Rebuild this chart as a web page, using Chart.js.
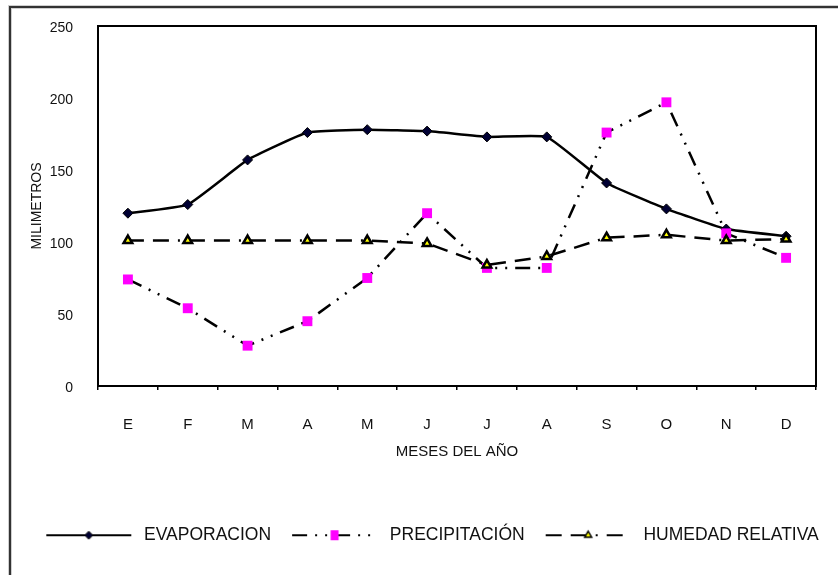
<!DOCTYPE html>
<html>
<head>
<meta charset="utf-8">
<script src="https://cdn.jsdelivr.net/npm/chart.js@4.4.0/dist/chart.umd.min.js"></script>
<style>
  html, body { margin: 0; padding: 0; background: #fff; }
  #grafico { display: block; }
</style>
</head>
<body>
<canvas id="grafico" width="838" height="575"></canvas>
<script>
// Meses del año
const meses = ['E', 'F', 'M', 'A', 'M', 'J', 'J', 'A', 'S', 'O', 'N', 'D'];

// Valores mensuales (mm)
const evaporacion   = [120, 126, 157, 176, 178, 177, 173, 173, 141, 123, 109, 104];
const precipitacion = [74, 54, 28, 45, 75, 120, 82, 82, 176, 197, 106, 89];
const humedad       = [101, 101, 101, 101, 101, 99, 84, 90, 103, 105, 101, 102];

// Marcas del eje vertical
const ticksY = [0, 50, 100, 150, 200, 250];

const series = [
  { label: 'EVAPORACION', data: evaporacion, dash: [], tension: 0.12,
    pointStyle: 'rectRot', radius: 5, fill: '#000033', stroke: '#000', strokeW: 1 },
  { label: 'PRECIPITACIÓN', data: precipitacion, dash: [15, 8, 2, 8, 2, 8], tension: 0,
    pointStyle: 'rect', radius: 7, fill: '#ff00ff', stroke: '#ff00ff', strokeW: 0 },
  { label: 'HUMEDAD RELATIVA', data: humedad, dash: [16, 9, 16, 9, 2, 9], tension: 0,
    pointStyle: 'triangle', radius: 5, fill: '#ffff00', stroke: '#000', strokeW: 2.5 }
];

const FUENTE = "'Liberation Sans', Arial, sans-serif";

// Muestra de línea + marcador para la leyenda
const ANCHO_MUESTRA = 104;
function muestraLeyenda(s) {
  const cv = document.createElement('canvas');
  cv.width = ANCHO_MUESTRA; cv.height = 16;
  const c = cv.getContext('2d');
  const x0 = 15, x1 = 100, y = 8, xm = (x0 + x1) / 2;
  c.strokeStyle = '#000'; c.lineWidth = 2;
  c.setLineDash(s.dash);
  c.beginPath(); c.moveTo(x0, y); c.lineTo(x1, y); c.stroke();
  c.setLineDash([]);
  c.fillStyle = s.fill; c.strokeStyle = s.stroke; c.lineWidth = Math.min(s.strokeW, 1.5);
  c.beginPath();
  if (s.pointStyle === 'rectRot') {
    const r = 4;
    c.moveTo(xm - r, y); c.lineTo(xm, y - r); c.lineTo(xm + r, y); c.lineTo(xm, y + r); c.closePath();
  } else if (s.pointStyle === 'rect') {
    c.rect(xm - 4, y - 5, 8, 10);
  } else {
    const r = 4;
    c.moveTo(xm, y - r); c.lineTo(xm + r * 0.866, y + r / 2); c.lineTo(xm - r * 0.866, y + r / 2); c.closePath();
  }
  c.fill();
  if (s.strokeW > 0) c.stroke();
  return cv;
}

// Fondo blanco y marco exterior
const marco = {
  id: 'marco',
  beforeDraw(chart) {
    const c = chart.ctx;
    c.save();
    c.fillStyle = '#fff';
    c.fillRect(0, 0, chart.width, chart.height);
    c.strokeStyle = '#cfcfcf'; c.lineWidth = 4;
    c.beginPath(); c.moveTo(10, chart.height); c.lineTo(10, 7); c.lineTo(chart.width, 7); c.stroke();
    c.strokeStyle = '#333'; c.lineWidth = 2;
    c.beginPath(); c.moveTo(10, chart.height); c.lineTo(10, 7); c.lineTo(chart.width, 7); c.stroke();
    c.restore();
  }
};

new Chart(document.getElementById('grafico'), {
  type: 'line',
  data: {
    labels: meses,
    datasets: series.map((s, i) => ({
      label: s.label,
      data: s.data,
      order: 3 - i,
      borderColor: '#000',
      borderWidth: 2.5,
      borderDash: s.dash,
      tension: s.tension,
      fill: false,
      pointStyle: s.pointStyle,
      pointRadius: s.radius,
      pointHoverRadius: s.radius,
      pointBackgroundColor: s.fill,
      pointBorderColor: s.stroke,
      pointBorderWidth: s.strokeW
    }))
  },
  options: {
    responsive: false,
    devicePixelRatio: 1,
    animation: false,
    events: [],
    layout: { autoPadding: false, padding: { left: 12, right: 0, top: 0, bottom: 21 } },
    scales: {
      x: {
        type: 'category',
        position: 'bottom',
        offset: true,
        grid: { display: true, offset: true, drawOnChartArea: false, drawTicks: true, tickLength: 4, color: '#000', lineWidth: 1.5 },
        border: { display: true, color: '#000', width: 2 },
        ticks: { font: { family: FUENTE, size: 15 }, color: '#111', padding: 25.5, maxRotation: 0 },
        title: { display: true, text: 'MESES DEL AÑO', font: { family: FUENTE, size: 15 }, color: '#111', padding: { top: 0, bottom: 59.5 } },
        afterFit(s) { s.height = 134.5; }
      },
      xTop: {
        type: 'category',
        position: 'top',
        grid: { display: false, drawTicks: false },
        border: { display: true, color: '#000', width: 2 },
        ticks: { display: false },
        afterFit(s) { s.height = 26; }
      },
      y: {
        position: 'left',
        min: 0,
        max: 250,
        afterBuildTicks(s) { s.ticks = ticksY.map(v => ({ value: v })); },
        grid: { display: false, drawTicks: true, tickLength: 24 },
        border: { display: true, color: '#000', width: 2 },
        ticks: { font: { family: FUENTE, size: 14 }, color: '#111', padding: 1, labelOffset: 2 },
        title: { display: true, text: 'MILIMETROS', font: { family: FUENTE, size: 14 }, color: '#111', padding: { top: 16.6, bottom: 0 } },
        afterFit(s) { s.width = 86; }
      },
      yRight: {
        position: 'right',
        grid: { display: false, drawTicks: false },
        border: { display: true, color: '#000', width: 2 },
        ticks: { display: false },
        afterFit(s) { s.width = 22; }
      }
    },
    plugins: {
      tooltip: { enabled: false },
      legend: {
        display: true,
        position: 'bottom',
        align: 'center',
        labels: {
          usePointStyle: true,
          pointStyleWidth: ANCHO_MUESTRA,
          padding: 6,
          color: '#111',
          font: { family: FUENTE, size: 17.5 },
          generateLabels(chart) {
            return series.map((s, i) => ({
              text: s.label,
              datasetIndex: i,
              pointStyle: muestraLeyenda(s),
              fillStyle: 'transparent',
              strokeStyle: 'transparent',
              lineWidth: 0,
              fontColor: '#111',
              hidden: false
            }));
          }
        }
      }
    }
  },
  plugins: [marco]
});
</script>
</body>
</html>
